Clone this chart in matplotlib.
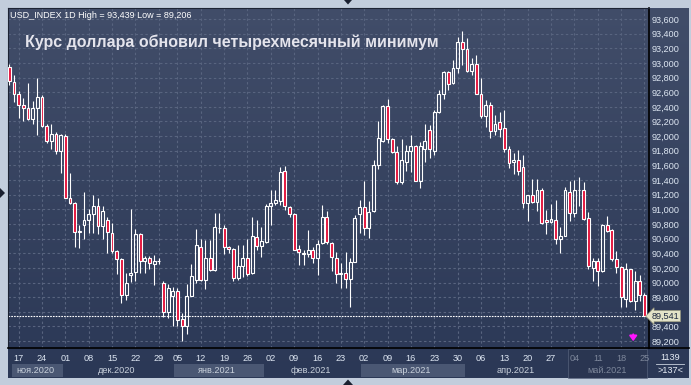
import matplotlib
matplotlib.use('Agg')
import matplotlib.pyplot as plt
import numpy as np
import pandas as pd
from matplotlib.patches import Rectangle, Polygon
from matplotlib.colors import LinearSegmentedColormap
from matplotlib.transforms import blended_transform_factory

plt.rcParams['font.family'] = ['Liberation Sans', 'DejaVu Sans']

# торговые дни (без 1 января)
dates = pd.bdate_range('2020-11-13', '2021-05-25')
dates = dates[dates != pd.Timestamp('2021-01-01')]

opens = [92.95, 92.735, 92.57, 92.42, 92.39, 92.24, 92.39, 92.53, 92.14, 91.93,
         92.03, 91.79, 92.00, 91.16, 91.08, 90.69, 90.78, 90.86, 90.93, 91.04,
         90.77, 90.85, 90.68, 90.43, 90.32, 89.83, 90.10, 90.14, 90.66, 90.29,
         90.33, 90.25, 90.29, 90.00, 89.60, 89.81, 89.89, 89.50, 89.41, 89.82,
         90.04, 90.49, 90.04, 90.34, 90.17, 90.75, 90.75, 90.49, 90.46, 90.06,
         90.22, 90.34, 90.13, 90.62, 90.50, 90.56, 91.04, 91.09, 91.12, 91.52,
         91.03, 90.94, 90.46, 90.41, 90.39, 90.45, 90.34, 90.54, 90.90, 90.54,
         90.34, 90.13, 90.13, 90.05, 90.28, 90.93, 91.03, 90.75, 90.98, 91.61,
         91.93, 92.41, 91.96, 91.78, 91.37, 91.65, 91.80, 91.86, 91.39, 91.82,
         92.09, 91.80, 92.33, 92.58, 92.87, 92.72, 92.93, 93.28, 93.19, 92.89,
         92.98, 92.58, 92.28, 92.43, 92.07, 92.19, 92.11, 91.83, 91.64, 91.68,
         91.58, 91.08, 91.20, 91.10, 91.27, 90.85, 90.83, 90.86, 90.60, 90.64,
         91.24, 90.95, 91.27, 91.26, 90.88, 90.20, 90.29, 90.16, 90.79, 90.72,
         90.32, 90.21, 89.78, 90.18, 89.75, 90.02, 89.83]
highs = [92.99, 92.84, 92.62, 92.52, 92.72, 92.48, 92.80, 92.56, 92.16, 92.17,
         92.05, 92.03, 92.03, 91.49, 91.10, 90.78, 91.24, 91.00, 91.20, 91.16,
         91.04, 90.90, 90.81, 90.44, 90.34, 90.13, 91.00, 90.73, 90.67, 90.36,
         90.36, 90.38, 90.34, 90.02, 89.98, 89.94, 89.92, 89.58, 89.98, 90.25,
         90.73, 90.60, 90.58, 90.58, 90.95, 90.95, 90.78, 90.50, 90.47, 90.51,
         90.51, 90.60, 90.89, 90.85, 90.76, 91.07, 91.27, 91.27, 91.58, 91.59,
         91.04, 90.95, 90.51, 90.44, 90.72, 90.49, 90.58, 91.06, 90.98, 90.56,
         90.42, 90.26, 90.42, 90.33, 90.92, 91.13, 91.39, 91.11, 91.67, 92.20,
         92.43, 92.51, 91.97, 91.86, 91.96, 91.88, 92.02, 91.88, 91.92, 92.16,
         92.15, 92.36, 92.63, 92.89, 92.89, 93.04, 93.36, 93.439, 93.34, 93.07,
         93.11, 92.80, 92.49, 92.47, 92.29, 92.33, 92.36, 91.86, 91.77, 91.81,
         91.74, 91.20, 91.42, 91.42, 91.29, 90.99, 91.07, 91.13, 90.76, 91.31,
         91.39, 91.40, 91.44, 91.37, 90.96, 90.33, 90.34, 90.80, 90.91, 90.73,
         90.43, 90.22, 90.27, 90.19, 90.16, 90.10, 89.85]
lows = [92.70, 92.47, 92.25, 92.20, 92.22, 92.17, 92.01, 92.12, 91.91, 91.83,
        91.75, 91.49, 91.15, 91.07, 90.49, 90.47, 90.60, 90.67, 90.67, 90.66,
        90.60, 90.41, 90.40, 90.11, 89.72, 89.76, 90.01, 90.02, 90.13, 90.13,
        90.19, 89.97, 90.25, 89.53, 89.51, 89.41, 89.41, 89.206, 89.29, 89.81,
        90.00, 90.02, 89.91, 90.16, 90.16, 90.68, 90.39, 90.40, 90.02, 90.03,
        90.07, 90.09, 90.12, 90.44, 90.35, 90.54, 90.79, 91.06, 91.06, 90.99,
        90.90, 90.44, 90.24, 90.24, 90.35, 90.26, 90.10, 90.52, 90.53, 90.16,
        89.99, 89.93, 89.92, 89.67, 90.28, 90.67, 90.65, 90.61, 90.97, 91.55,
        91.92, 91.90, 91.77, 91.35, 91.35, 91.53, 91.51, 91.38, 91.29, 91.64,
        91.70, 91.74, 92.32, 92.51, 92.63, 92.71, 92.86, 92.97, 92.88, 92.84,
        92.57, 92.25, 92.13, 91.98, 92.02, 91.99, 91.78, 91.57, 91.48, 91.47,
        91.02, 90.84, 91.08, 90.98, 90.80, 90.66, 90.81, 90.53, 90.41, 90.63,
        90.84, 90.90, 91.04, 90.85, 90.18, 90.02, 89.95, 90.15, 90.69, 90.29,
        90.13, 89.67, 89.67, 89.74, 89.62, 89.75, 89.54]
closes = [92.75, 92.57, 92.42, 92.39, 92.24, 92.38, 92.53, 92.14, 91.94, 92.03,
          91.79, 92.01, 91.16, 91.08, 90.69, 90.70, 90.86, 90.94, 91.04, 90.77,
          90.98, 90.69, 90.43, 90.32, 89.83, 90.00, 90.13, 90.66, 90.30, 90.33,
          90.26, 90.30, 90.29, 89.60, 89.92, 89.88, 89.49, 89.41, 89.82, 90.09,
          90.51, 90.03, 90.34, 90.17, 90.76, 90.74, 90.48, 90.46, 90.06, 90.23,
          90.34, 90.12, 90.63, 90.50, 90.57, 91.04, 91.09, 91.13, 91.51, 91.04,
          90.94, 90.45, 90.42, 90.39, 90.45, 90.34, 90.52, 90.90, 90.55, 90.35,
          90.11, 90.11, 90.05, 90.28, 90.88, 91.03, 90.75, 90.97, 91.60, 91.97,
          92.41, 91.96, 91.78, 91.37, 91.67, 91.80, 91.87, 91.39, 91.87, 91.94,
          91.82, 92.33, 92.58, 92.87, 92.71, 92.93, 93.28, 93.19, 92.89, 92.98,
          92.58, 92.28, 92.43, 92.07, 92.17, 92.10, 91.83, 91.63, 91.67, 91.53,
          91.08, 91.20, 91.10, 91.27, 90.81, 90.82, 90.87, 90.60, 90.63, 91.27,
          90.95, 91.27, 91.26, 90.87, 90.22, 90.29, 90.16, 90.79, 90.70, 90.32,
          90.21, 89.80, 90.18, 89.75, 90.02, 89.83, 89.541]

price_ticks = [89.2, 89.4, 89.6, 89.8, 90.0, 90.2, 90.4, 90.6, 90.8, 91.0, 91.2, 91.4,
               91.6, 91.8, 92.0, 92.2, 92.4, 92.6, 92.8, 93.0, 93.2, 93.4, 93.6]
month_names = ['ноя.2020', 'дек.2020', 'янв.2021', 'фев.2021', 'мар.2021', 'апр.2021', 'май.2021']
last_price = 89.541

W, H = 691, 385
bg_top, bg_bot = '#414d69', '#2b3856'
red = '#e3123b'
grid_c = '#58647f'

fig = plt.figure(figsize=(W / 100, H / 100), dpi=100, facecolor='#c2cddc')

def fig_rect(x0, y0, x1, y1):
    # пиксели -> доли фигуры
    return [x0 / W, 1 - y1 / H, (x1 - x0) / W, (y1 - y0) / H]

# фон с градиентом
bg = fig.add_axes(fig_rect(8, 8, 689, 378))
grad = np.linspace(0, 1, 256).reshape(-1, 1)
cm = LinearSegmentedColormap.from_list('bg', [bg_top, bg_bot])
bg.imshow(grad, aspect='auto', cmap=cm, extent=[0, 1, 0, 1])
bg.set_axis_off()

ax = fig.add_axes(fig_rect(8, 8, 649, 348))
ax.set_facecolor('none')

o = np.array(opens); h = np.array(highs); l = np.array(lows); c = np.array(closes)
x = np.arange(len(o))
top = np.maximum(o, c); bot = np.minimum(o, c)
down = c < o

ax.vlines(x, top, h, color='white', lw=0.8, zorder=3)
ax.vlines(x, l, bot, color='white', lw=0.8, zorder=3)
ax.bar(x, top - bot, bottom=bot, width=0.62,
       color=[red if d else 'none' for d in down],
       edgecolor='white', linewidth=0.8, zorder=4)

ax.set_xlim(-0.28, 136.98)
ax.set_ylim(89.1055, 93.75)

# сетка и подписи осей
tues = [i for i, d in enumerate(dates) if d.weekday() == 1]
ax.set_xticks(tues)
ax.set_xticklabels([f'{dates[i].day:02d}' for i in tues])
ax.set_yticks(price_ticks)
# метка 89,600 закрыта плашкой текущей цены
ax.set_yticklabels(['' if abs(v - 89.6) < 1e-6 else f'{v:.3f}'.replace('.', ',')
                    for v in price_ticks])
ax.yaxis.tick_right()
ax.grid(True, color=grid_c, lw=0.8, ls=(0, (2.2, 2.2)), zorder=1)
ax.tick_params(axis='both', length=0, labelsize=6.6, colors='#dde6f2')
ax.tick_params(axis='y', pad=2)
ax.tick_params(axis='x', pad=4)
for i, lab in zip(tues, ax.get_xticklabels()):
    if dates[i].month == 5:
        lab.set_color('#7d879b')

for s in ['top', 'left']:
    ax.spines[s].set_color('#1c2333')
for s in ['right', 'bottom']:
    ax.spines[s].set_color('black')
ax.spines['right'].set_linewidth(1.2)
ax.spines['bottom'].set_linewidth(1.2)

# линия текущей цены
ax.axhline(last_price, color='white', lw=0.8, ls=(0, (1.5, 1)), zorder=2)
ax.text(1.004, last_price, f'{last_price:.3f}'.replace('.', ','),
        transform=blended_transform_factory(ax.transAxes, ax.transData),
        ha='left', va='center', fontsize=6.6, color='#1d2840', zorder=10,
        bbox=dict(boxstyle='larrow,pad=0.12', fc='#e3e3c8', ec='#9a9a80', lw=0.5),
        clip_on=False)

# месяцы
xt = ax.get_xaxis_transform()
month_idx = [[i for i, d in enumerate(dates) if (d.year, d.month) == ym]
             for ym in [(2020, 11), (2020, 12), (2021, 1), (2021, 2), (2021, 3), (2021, 4), (2021, 5)]]
for k, (name, idx) in enumerate(zip(month_names, month_idx)):
    a = max(idx[0] - 0.5, -0.28)
    b = min(idx[-1] + 0.5, 136.98)
    if k == 6:
        ax.add_patch(Rectangle((idx[0] - 0.3, -0.088), b - idx[0] + 0.3, 0.086, transform=xt,
                               fc='#2a3550', ec='#5a6680', lw=0.6, alpha=0.75, clip_on=False, zorder=0))
        col = '#7d879b'
    else:
        if k % 2 == 0:
            ax.add_patch(Rectangle((a + 0.8, -0.085), b - a - 0.8, 0.038, transform=xt,
                                   fc='#4a5773', ec='none', clip_on=False, zorder=0))
        col = '#c9d1dc'
    ax.text((a + b) / 2, -0.067, name, transform=xt, ha='center', va='center',
            fontsize=6.6, color=col, clip_on=False)

# заголовки
fig.text(10 / W, 1 - 15 / H, 'USD_INDEX 1D High = 93,439 Low = 89,206',
         fontsize=6.5, color='white', va='center', ha='left')
fig.text(25 / W, 1 - 42 / H, 'Курс доллара обновил четырехмесячный минимум',
         fontsize=11.5, fontweight='bold', color='#e4e4ec', va='center', ha='left')

# стрелка сигнала
ax.annotate('', xy=(133.6, 89.16), xytext=(133.6, 89.33),
            arrowprops=dict(arrowstyle='-|>,head_width=0.22,head_length=0.3',
                            color='#ff14ff', lw=1.4), zorder=6)

# правый нижний угол
fig.add_artist(plt.Line2D([649 / W, 689 / W], [1 - 348 / H, 1 - 348 / H], color='black', lw=1.2))
fig.text(670 / W, 1 - 357 / H, '1139', ha='center', va='center', fontsize=6.6, color='#e6ecf5')
fig.add_artist(plt.Line2D([656 / W, 684 / W], [1 - 363.5 / H, 1 - 363.5 / H], color='#c8d0dc', lw=0.6))
fig.text(670 / W, 1 - 370.5 / H, '>137<', ha='center', va='center', fontsize=6.6, color='#e6ecf5')

# треугольники рамки
tri = [[(344, 0), (352, 0), (348, 4.5)], [(0, 188), (0, 198), (5, 193)],
       [(343, 385), (353, 385), (348, 379.5)]]
for t in tri:
    fig.add_artist(Polygon([(px / W, 1 - py / H) for px, py in t], closed=True,
                           fc='#1a2030', ec='none', transform=fig.transFigure))

fig.savefig('out.png', dpi=100, facecolor=fig.get_facecolor())
